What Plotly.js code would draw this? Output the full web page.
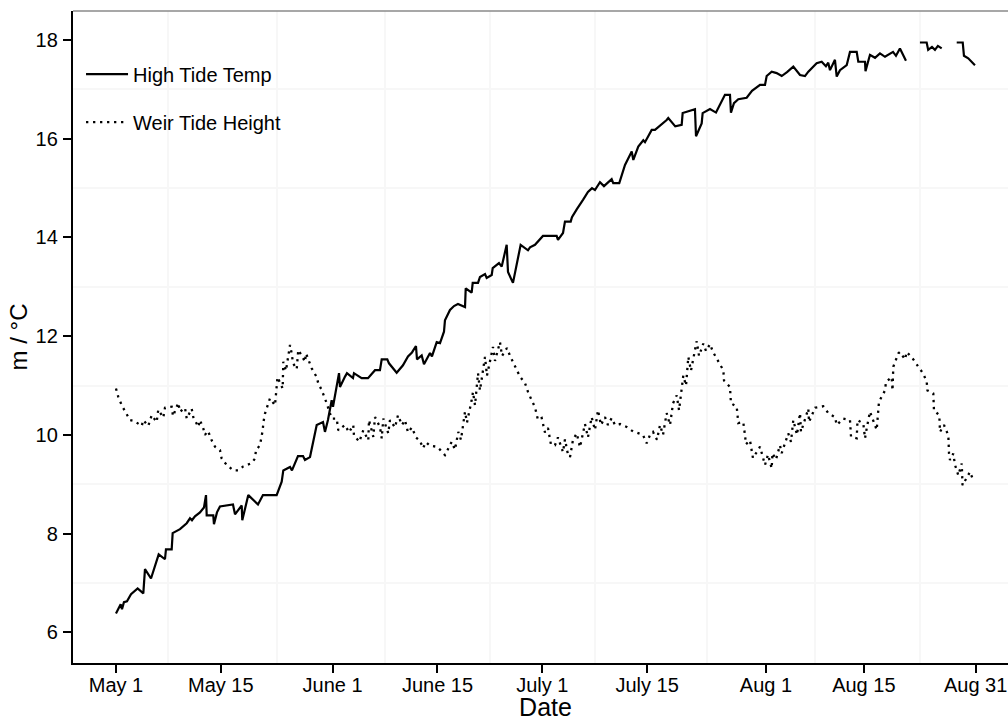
<!DOCTYPE html>
<html>
<head>
<meta charset="utf-8">
<script src="https://cdn.plot.ly/plotly-3.0.1.min.js"></script>
<style>
html,body{margin:0;padding:0;background:#fff;overflow:hidden;width:1008px;height:721px;}
#chart{width:1018px;height:721px;}
</style>
</head>
<body>
<div id="chart"></div>
<script>
// x = days since the "May 1" tick position
const tickDays = [0, 15, 31, 46, 61, 76, 93, 107, 123];
const tickLabels = ['May 1', 'May 15', 'June 1', 'June 15', 'July 1', 'July 15', 'Aug 1', 'Aug 15', 'Aug 31'];
const minorDays = [7.5, 23, 38.5, 53.5, 68.5, 84.5, 100, 115];
const yTicks = [6, 8, 10, 12, 14, 16, 18];
const yMinor = [7, 9, 11, 13, 15, 17];

const tempDay = [0,0.67,0.86,1.14,1.57,1.86,2.15,3.10,3.91,4.15,5.01,6.11,7.01,7.15,7.97,8.11,9.16,10.12,10.59,10.87,11.30,12.02,12.59,12.88,12.98,13.92,14.02,14.45,14.88,16.74,17.03,17.99,18.07,18.93,19.60,20.32,21.03,22.99,23.71,23.94,24.90,25.18,26.04,26.76,27.04,27.76,28.72,29.62,29.90,30.33,30.86,31.05,31.91,32.05,32.77,33.05,33.91,34.05,35.15,36.06,37.06,37.77,38.02,38.82,39.06,40.16,41.06,41.78,42.35,42.92,43.07,43.74,44.07,44.93,45.21,45.89,46.36,46.93,47.07,47.79,48.36,48.93,49.94,50.04,50.89,51.04,51.80,52.08,52.80,53.04,53.76,53.90,54.80,55.19,55.90,56.09,56.80,57.90,58.95,59.24,59.95,60.52,61.09,63.05,63.24,63.96,64.24,65.06,65.24,65.92,66.39,66.82,67.53,68.11,68.53,69.25,69.82,70.39,70.92,71.15,72.01,72.83,73.79,74.02,74.73,75.45,75.69,76.65,77.12,78.79,79.02,80.02,80.94,81.08,82.84,82.99,83.80,83.94,84.99,85.85,87.13,87.85,87.99,88.42,89.04,90.24,91.00,92.15,92.86,93.10,93.82,94.53,95.25,96.01,96.91,97.87,98.58,99.06,99.58,100.25,100.97,101.58,101.91,102.16,102.87,103.12,103.59,104.55,105.02,105.98,106.21,107.17,107.24,107.88,108.60,109.31,110.03,111.18,111.60,112.17,113.03,113.5,115.03,115.99,116.21,116.75,117.18,117.60,118.14,118.6,120.29,121.15,121.33,121.94,122.90];
const tempC = [6.38,6.57,6.47,6.61,6.63,6.69,6.77,6.89,6.79,7.28,7.09,7.58,7.48,7.68,7.68,8.01,8.09,8.21,8.31,8.27,8.35,8.43,8.53,8.78,8.37,8.37,8.19,8.43,8.55,8.59,8.39,8.57,8.27,8.78,8.68,8.59,8.78,8.78,9.05,9.28,9.35,9.28,9.57,9.57,9.49,9.55,10.20,10.26,10.06,10.30,10.70,10.57,11.25,10.97,11.18,11.25,11.15,11.25,11.15,11.15,11.31,11.31,11.53,11.53,11.45,11.26,11.41,11.59,11.67,11.80,11.53,11.61,11.43,11.66,11.59,11.88,11.86,12.09,12.32,12.53,12.61,12.65,12.59,12.97,12.88,13.08,13.08,13.20,13.26,13.18,13.24,13.38,13.48,13.41,13.85,13.30,13.08,13.85,13.74,13.80,13.85,13.95,14.03,14.03,13.95,14.09,14.32,14.32,14.41,14.57,14.66,14.76,14.92,15.00,14.96,15.12,15.04,15.12,15.18,15.10,15.10,15.47,15.74,15.57,15.84,15.97,15.93,16.18,16.18,16.38,16.42,16.25,16.28,16.52,16.60,16.05,16.31,16.52,16.60,16.53,16.89,16.89,16.53,16.72,16.80,16.83,16.97,17.09,17.09,17.27,17.36,17.33,17.27,17.35,17.46,17.29,17.27,17.36,17.43,17.53,17.56,17.47,17.54,17.39,17.60,17.26,17.39,17.49,17.76,17.76,17.56,17.56,17.37,17.70,17.64,17.73,17.66,17.76,17.68,17.83,17.58,null,17.95,17.95,17.80,17.86,17.80,17.88,17.83,null,17.95,17.95,17.68,17.63,17.49];

const tideDay = [0.00,0.33,0.82,1.43,2.00,2.62,3.68,3.91,4.62,5.11,5.82,6.05,6.77,7.01,7.97,8.16,8.91,9.16,9.87,10.12,10.83,11.06,11.78,12.02,12.49,12.73,13.16,13.69,14.17,14.88,15.12,15.84,16.78,17.50,18.21,19.42,19.89,20.03,20.60,20.99,21.10,21.32,22.03,22.75,22.99,23.11,23.85,23.94,24.32,24.90,25.14,25.33,25.86,26.08,26.61,27.04,27.19,28.00,28.72,28.95,29.43,29.90,30.15,30.86,31.58,31.81,32.77,33.34,33.95,34.05,34.81,35.38,36.10,36.20,36.82,37.06,37.77,38.02,38.25,38.96,39.20,39.92,40.35,40.92,41.35,41.78,42.35,42.92,43.50,43.93,44.35,44.93,45.89,46.36,47.07,48.03,48.50,48.98,49.36,49.94,50.22,50.89,51.08,51.37,51.80,52.08,52.80,53.08,53.51,53.94,54.23,54.94,55.23,55.94,56.38,57.09,57.81,58.52,58.95,59.48,59.95,60.38,60.91,61.38,61.81,62.24,62.81,63.24,63.96,64.24,64.67,64.96,65.39,65.92,66.39,67.10,67.53,68.06,68.53,68.97,69.39,69.97,70.39,70.92,71.40,72.11,73.07,73.97,74.97,75.40,75.93,76.41,76.84,77.41,77.84,78.27,78.79,79.27,79.70,80.23,80.56,80.94,81.17,81.56,81.89,82.27,82.84,83.09,83.42,84.03,84.42,84.99,85.42,85.95,86.42,86.90,87.00,87.85,87.99,88.81,89.04,89.75,90.00,90.14,90.71,90.96,91.14,92.15,92.86,93.29,93.82,93.93,94.43,95.00,95.25,96.19,96.58,96.91,97.44,97.87,98.01,99.06,99.16,100.02,101.20,101.92,102.87,103.12,104.06,105.02,105.17,105.98,106.10,106.93,107.17,107.41,107.88,108.84,109.07,109.17,110.03,110.17,110.99,111.10,111.22,111.93,112.17,112.89,113.13,114.08,114.79,115.51,116.00,116.11,116.94,117.04,117.80,117.90,118.47,119.09,119.19,119.33,119.80,120.05,120.52,121.01,121.12,121.72,122.19,122.66];
const tideM = [10.94,10.77,10.60,10.45,10.30,10.28,10.18,10.30,10.18,10.40,10.26,10.51,10.35,10.55,10.57,10.38,10.65,10.47,10.55,10.33,10.53,10.36,10.16,10.30,10.13,10.00,10.08,9.89,9.76,9.69,9.52,9.39,9.28,9.28,9.36,9.43,9.52,9.69,9.79,10.09,10.26,10.43,10.74,10.60,11.00,11.17,10.94,11.48,11.30,11.82,11.65,11.45,11.33,11.72,11.60,11.48,11.65,11.35,11.17,11.04,10.91,10.74,10.64,10.33,10.33,10.09,10.20,10.05,10.20,9.99,9.86,10.09,9.89,10.30,9.96,10.36,10.16,9.93,10.33,10.03,10.30,10.15,10.40,10.20,10.30,10.05,10.15,9.95,9.88,9.73,9.85,9.78,9.76,9.70,9.59,9.86,9.70,10.06,9.90,10.47,10.25,10.70,10.87,10.60,11.25,10.90,11.58,11.20,11.50,11.78,11.50,11.88,11.60,11.76,11.60,11.38,11.18,11.05,10.87,10.70,10.56,10.30,10.34,10.05,10.14,9.80,9.79,9.95,9.65,9.91,9.60,9.55,9.90,10.03,9.75,10.22,9.95,10.36,10.10,10.50,10.20,10.36,10.20,10.34,10.20,10.22,10.16,10.07,10.03,10.00,9.83,10.00,10.06,9.90,10.20,10.00,10.44,10.20,10.64,10.80,10.50,11.00,11.20,11.00,11.58,11.30,11.76,11.90,11.60,11.85,11.70,11.84,11.68,11.55,11.45,11.31,11.10,10.97,10.64,10.57,10.24,10.26,9.99,9.81,9.89,9.69,9.53,9.76,9.39,9.60,9.32,9.63,9.50,9.79,9.63,10.03,9.86,10.30,10.00,10.44,10.06,10.53,10.26,10.55,10.58,10.44,10.36,10.20,10.33,10.30,9.96,9.93,10.30,10.23,9.93,10.13,10.47,10.10,10.47,10.67,10.90,11.07,11.17,10.90,11.38,11.65,11.68,11.53,11.68,11.53,11.38,11.24,11.07,10.90,10.84,10.49,10.40,10.06,10.20,9.99,9.62,9.49,9.62,9.39,9.18,9.42,8.98,9.15,9.25,9.08];

const FONT = 'Liberation Sans, Arial, sans-serif';

const traces = [
  {
    x: tempDay, y: tempC, type: 'scatter', mode: 'lines',
    name: 'High Tide Temp', legendgroup: 'a',
    line: {color: '#000000', width: 2.2},
    connectgaps: false, hoverinfo: 'x+y'
  },
  {
    x: tideDay, y: tideM, type: 'scatter', mode: 'lines',
    name: 'Weir Tide Height', legendgroup: 'b',
    line: {color: '#000000', width: 2.3, dash: '2.3px,4.7px'},
    hoverinfo: 'x+y'
  }
];

const layout = {
  width: 1018, height: 721,
  margin: {l: 73, r: 0, t: 11, b: 58, pad: 0},
  paper_bgcolor: '#ffffff', plot_bgcolor: '#ffffff',
  font: {family: FONT, color: '#000000', size: 20},
  showlegend: true,
  legend: {
    x: 0.0085, y: 0.933, xanchor: 'left', yanchor: 'top',
    bgcolor: 'rgba(0,0,0,0)', borderwidth: 0,
    font: {family: FONT, size: 20, color: '#000000'},
    itemwidth: 42, tracegroupgap: 19, traceorder: 'grouped'
  },
  xaxis: {
    range: [-6.15, 129.06], autorange: false,
    tickmode: 'array', tickvals: tickDays, ticktext: tickLabels,
    showgrid: false, zeroline: false,
    showline: true, linecolor: '#000000', linewidth: 2.2,
    ticks: 'outside', ticklen: 8, tickwidth: 2, tickcolor: '#000000',
    ticklabelstandoff: -5,
    tickfont: {family: FONT, size: 20, color: '#000000'},
    minor: {tickmode: 'array', tickvals: minorDays, showgrid: true, gridcolor: '#f7f7f7', gridwidth: 2, ticks: ''},
    title: {text: 'Date', font: {family: FONT, size: 25, color: '#000000'}, standoff: 4},
    automargin: false, fixedrange: true
  },
  yaxis: {
    range: [5.378, 18.588], autorange: false,
    tickmode: 'array', tickvals: yTicks, ticktext: yTicks.map(String),
    showgrid: false, zeroline: false,
    showline: true, linecolor: '#000000', linewidth: 2.2,
    ticks: 'outside', ticklen: 8, tickwidth: 2, tickcolor: '#000000',
    ticklabelstandoff: 1,
    tickfont: {family: FONT, size: 20, color: '#000000'},
    minor: {tickmode: 'array', tickvals: yMinor, showgrid: true, gridcolor: '#f7f7f7', gridwidth: 2, ticks: ''},
    title: {text: 'm / °C', font: {family: FONT, size: 24, color: '#000000'}, standoff: 1},
    automargin: false, fixedrange: true
  },
  shapes: [
    {type: 'line', xref: 'paper', yref: 'paper', x0: 0, x1: 1, y0: 1, y1: 1,
     line: {color: '#8a8a8a', width: 1.5}, layer: 'above'}
  ]
};

Plotly.newPlot('chart', traces, layout, {displayModeBar: false, staticPlot: true});
</script>
</body>
</html>
